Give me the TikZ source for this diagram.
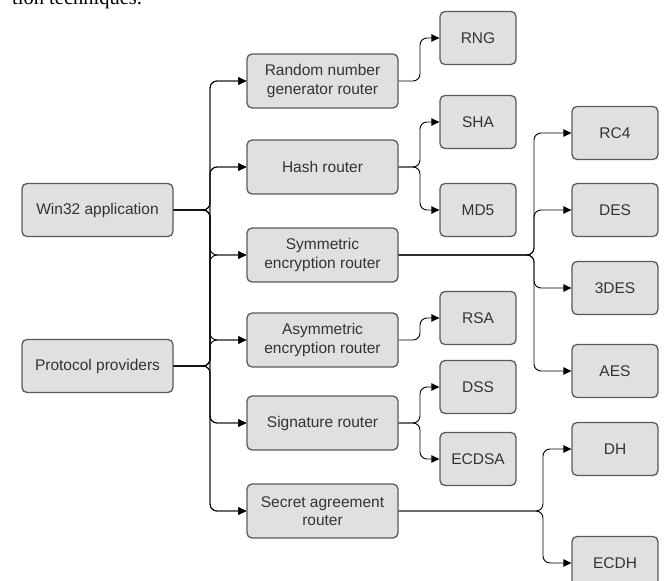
\documentclass[tikz,border=0pt]{standalone}
\usepackage{fontspec}
\setmainfont{Liberation Sans}
\newfontfamily\capserif{Liberation Serif}
\usetikzlibrary{arrows.meta}
\definecolor{boxfill}{HTML}{E0E0E0}
\definecolor{boxline}{HTML}{5A5A5A}
\definecolor{textc}{HTML}{333333}
\begin{document}
\begin{tikzpicture}[x=1pt,y=-1pt,
  box/.style={draw=boxline, fill=boxfill, line width=1.3pt, rounded corners=5pt,
    text=textc, font=\fontsize{15.5}{18.5}\selectfont, align=center, inner sep=0pt},
  srcbox/.style={box, minimum width=151pt, minimum height=53pt},
  routerbox/.style={box, minimum width=151pt, minimum height=54pt},
  leafbox/.style={box, minimum width=76pt, minimum height=53pt},
  algbox/.style={box, minimum width=86pt, minimum height=53pt},
  conn/.style={draw=black, line width=0.9pt, rounded corners=7pt,
    -{Triangle[length=8pt,width=7.5pt]}}]
\useasboundingbox (0,0) rectangle (665,581);
\begin{scope}
\clip (0,0) rectangle (665,581);
% caption fragment
\node[anchor=base west, font=\capserif\fontsize{20.5}{24}\selectfont, inner sep=0pt] (cap) at (12,4) {tion techniques.};
% sources
\node[srcbox] (win) at (97.5,210) {Win32 application};
\node[srcbox] (prot) at (97.5,366) {Protocol providers};
% routers
\node[routerbox] (r1) at (322.5,81) {Random number\\generator router};
\node[routerbox] (r2) at (322.5,167) {Hash router};
\node[routerbox] (r3) at (322.5,255) {Symmetric\\encryption router};
\node[routerbox] (r4) at (322.5,340) {Asymmetric\\encryption router};
\node[routerbox] (r5) at (322.5,423) {Signature router};
\node[routerbox] (r6) at (322.5,511) {Secret agreement\\router};
% leaves
\node[leafbox] (rng) at (478,38) {RNG};
\node[leafbox] (sha) at (478,122) {SHA};
\node[leafbox] (md5) at (478,210) {MD5};
\node[leafbox] (rsa) at (478,318) {RSA};
\node[leafbox] (dss) at (478,387) {DSS};
\node[leafbox] (ecdsa) at (478,459) {ECDSA};
\node[algbox] (rc4) at (615,133) {RC4};
\node[algbox] (des) at (615,210) {DES};
\node[algbox] (tdes) at (615,288) {3DES};
\node[algbox] (aes) at (615,371) {AES};
\node[algbox] (dh) at (615,449) {DH};
\node[algbox] (ecdh) at (615,563) {ECDH};
% split coordinates
\coordinate (bus) at (210,0);
\coordinate (sa) at (420,0);
\coordinate (sb) at (534,0);
\coordinate (sc) at (543,0);
% connectors from sources
\foreach \s in {win,prot}{
  \foreach \r in {r1,r2,r3,r4,r5,r6}{
    \draw[conn] (\s.east) -- (\s.east -| bus) |- (\r.west);
  }
}
% router to algorithms
\draw[conn] (r1.east) -- (r1.east -| sa) |- (rng.west);
\draw[conn] (r2.east) -- (r2.east -| sa) |- (sha.west);
\draw[conn] (r2.east) -- (r2.east -| sa) |- (md5.west);
\draw[conn] (r4.east) -- (r4.east -| sa) |- (rsa.west);
\draw[conn] (r5.east) -- (r5.east -| sa) |- (dss.west);
\draw[conn] (r5.east) -- (r5.east -| sa) |- (ecdsa.west);
\foreach \t in {rc4,des,tdes,aes}{
  \draw[conn] (r3.east) -- (r3.east -| sb) |- (\t.west);
}
\foreach \t in {dh,ecdh}{
  \draw[conn] (r6.east) -- (r6.east -| sc) |- (\t.west);
}
\end{scope}
\end{tikzpicture}
\end{document}
